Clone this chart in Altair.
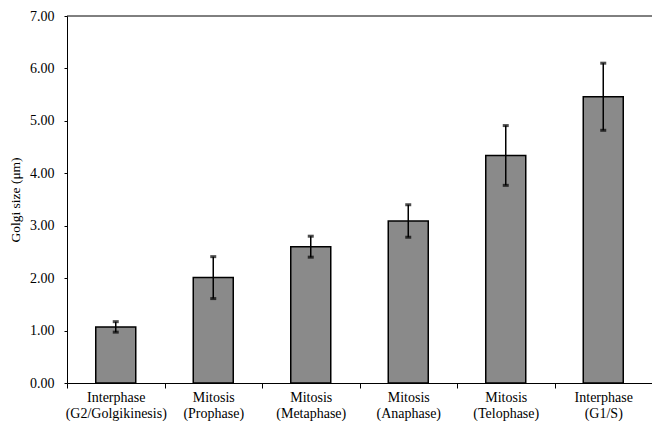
import altair as alt
import pandas as pd

phase = ["Interphase", "Mitosis", "Mitosis", "Mitosis", "Mitosis", "Interphase"]
stage = ["(G2/Golgikinesis)", "(Prophase)", "(Metaphase)", "(Anaphase)", "(Telophase)", "(G1/S)"]
size_um = [1.07, 2.01, 2.60, 3.09, 4.34, 5.46]
err = [0.10, 0.40, 0.20, 0.31, 0.57, 0.64]

cats = [p + "\n" + s for p, s in zip(phase, stage)]
df = pd.DataFrame({"cat": cats, "val": size_um, "err": err})
df["lo"] = df["val"] - df["err"]
df["hi"] = df["val"] + df["err"]

FONT = "Liberation Serif"

x = alt.X("cat:N", sort=cats, title=None,
          scale=alt.Scale(paddingInner=0, paddingOuter=0),
          axis=alt.Axis(labelExpr="split(datum.label, '\\n')", labelAngle=0,
                        tickBand="extent", tickSize=5, labelPadding=2,
                        labelLineHeight=16, labelFontSize=14, labelFont=FONT,
                        labelColor="black", domainColor="black", tickColor="black",
                        labelBaseline="top"))
y = alt.Y("val:Q", title="Golgi size (μm)",
          scale=alt.Scale(domain=[0, 7], nice=False),
          axis=alt.Axis(values=[0, 1, 2, 3, 4, 5, 6, 7], format=".2f", grid=False,
                        tickSize=3, labelPadding=10, labelFontSize=14, labelFont=FONT,
                        labelColor="black", domainColor="black", tickColor="black",
                        titleFont=FONT, titleFontSize=13.5, titleFontWeight="normal",
                        titleColor="black", titlePadding=7))

base = alt.Chart(df)
bars = base.mark_bar(size=40, color="#8a8a8a", stroke="black", strokeWidth=1.5).encode(x=x, y=y)
rules = base.mark_rule(color="black", strokeWidth=1.5).encode(
    x=alt.X("cat:N", sort=cats), y="lo:Q", y2="hi:Q")
cap_hi = base.mark_tick(color="black", size=6, thickness=3).encode(
    x=alt.X("cat:N", sort=cats), y="hi:Q")
cap_lo = base.mark_tick(color="black", size=6, thickness=3).encode(
    x=alt.X("cat:N", sort=cats), y="lo:Q")
top = alt.Chart(pd.DataFrame({"v": [7]})).mark_rule(color="black", strokeWidth=1).encode(y="v:Q")

chart = alt.layer(bars, rules, cap_hi, cap_lo, top).properties(
    width=585, height=367,
    autosize=alt.AutoSizeParams(type="none"),
    padding={"left": 59, "top": 8, "right": 0, "bottom": 38},
    background="white",
).configure_view(stroke=None)

chart.save("out.html", embed_options={"renderer": "svg", "actions": False})
